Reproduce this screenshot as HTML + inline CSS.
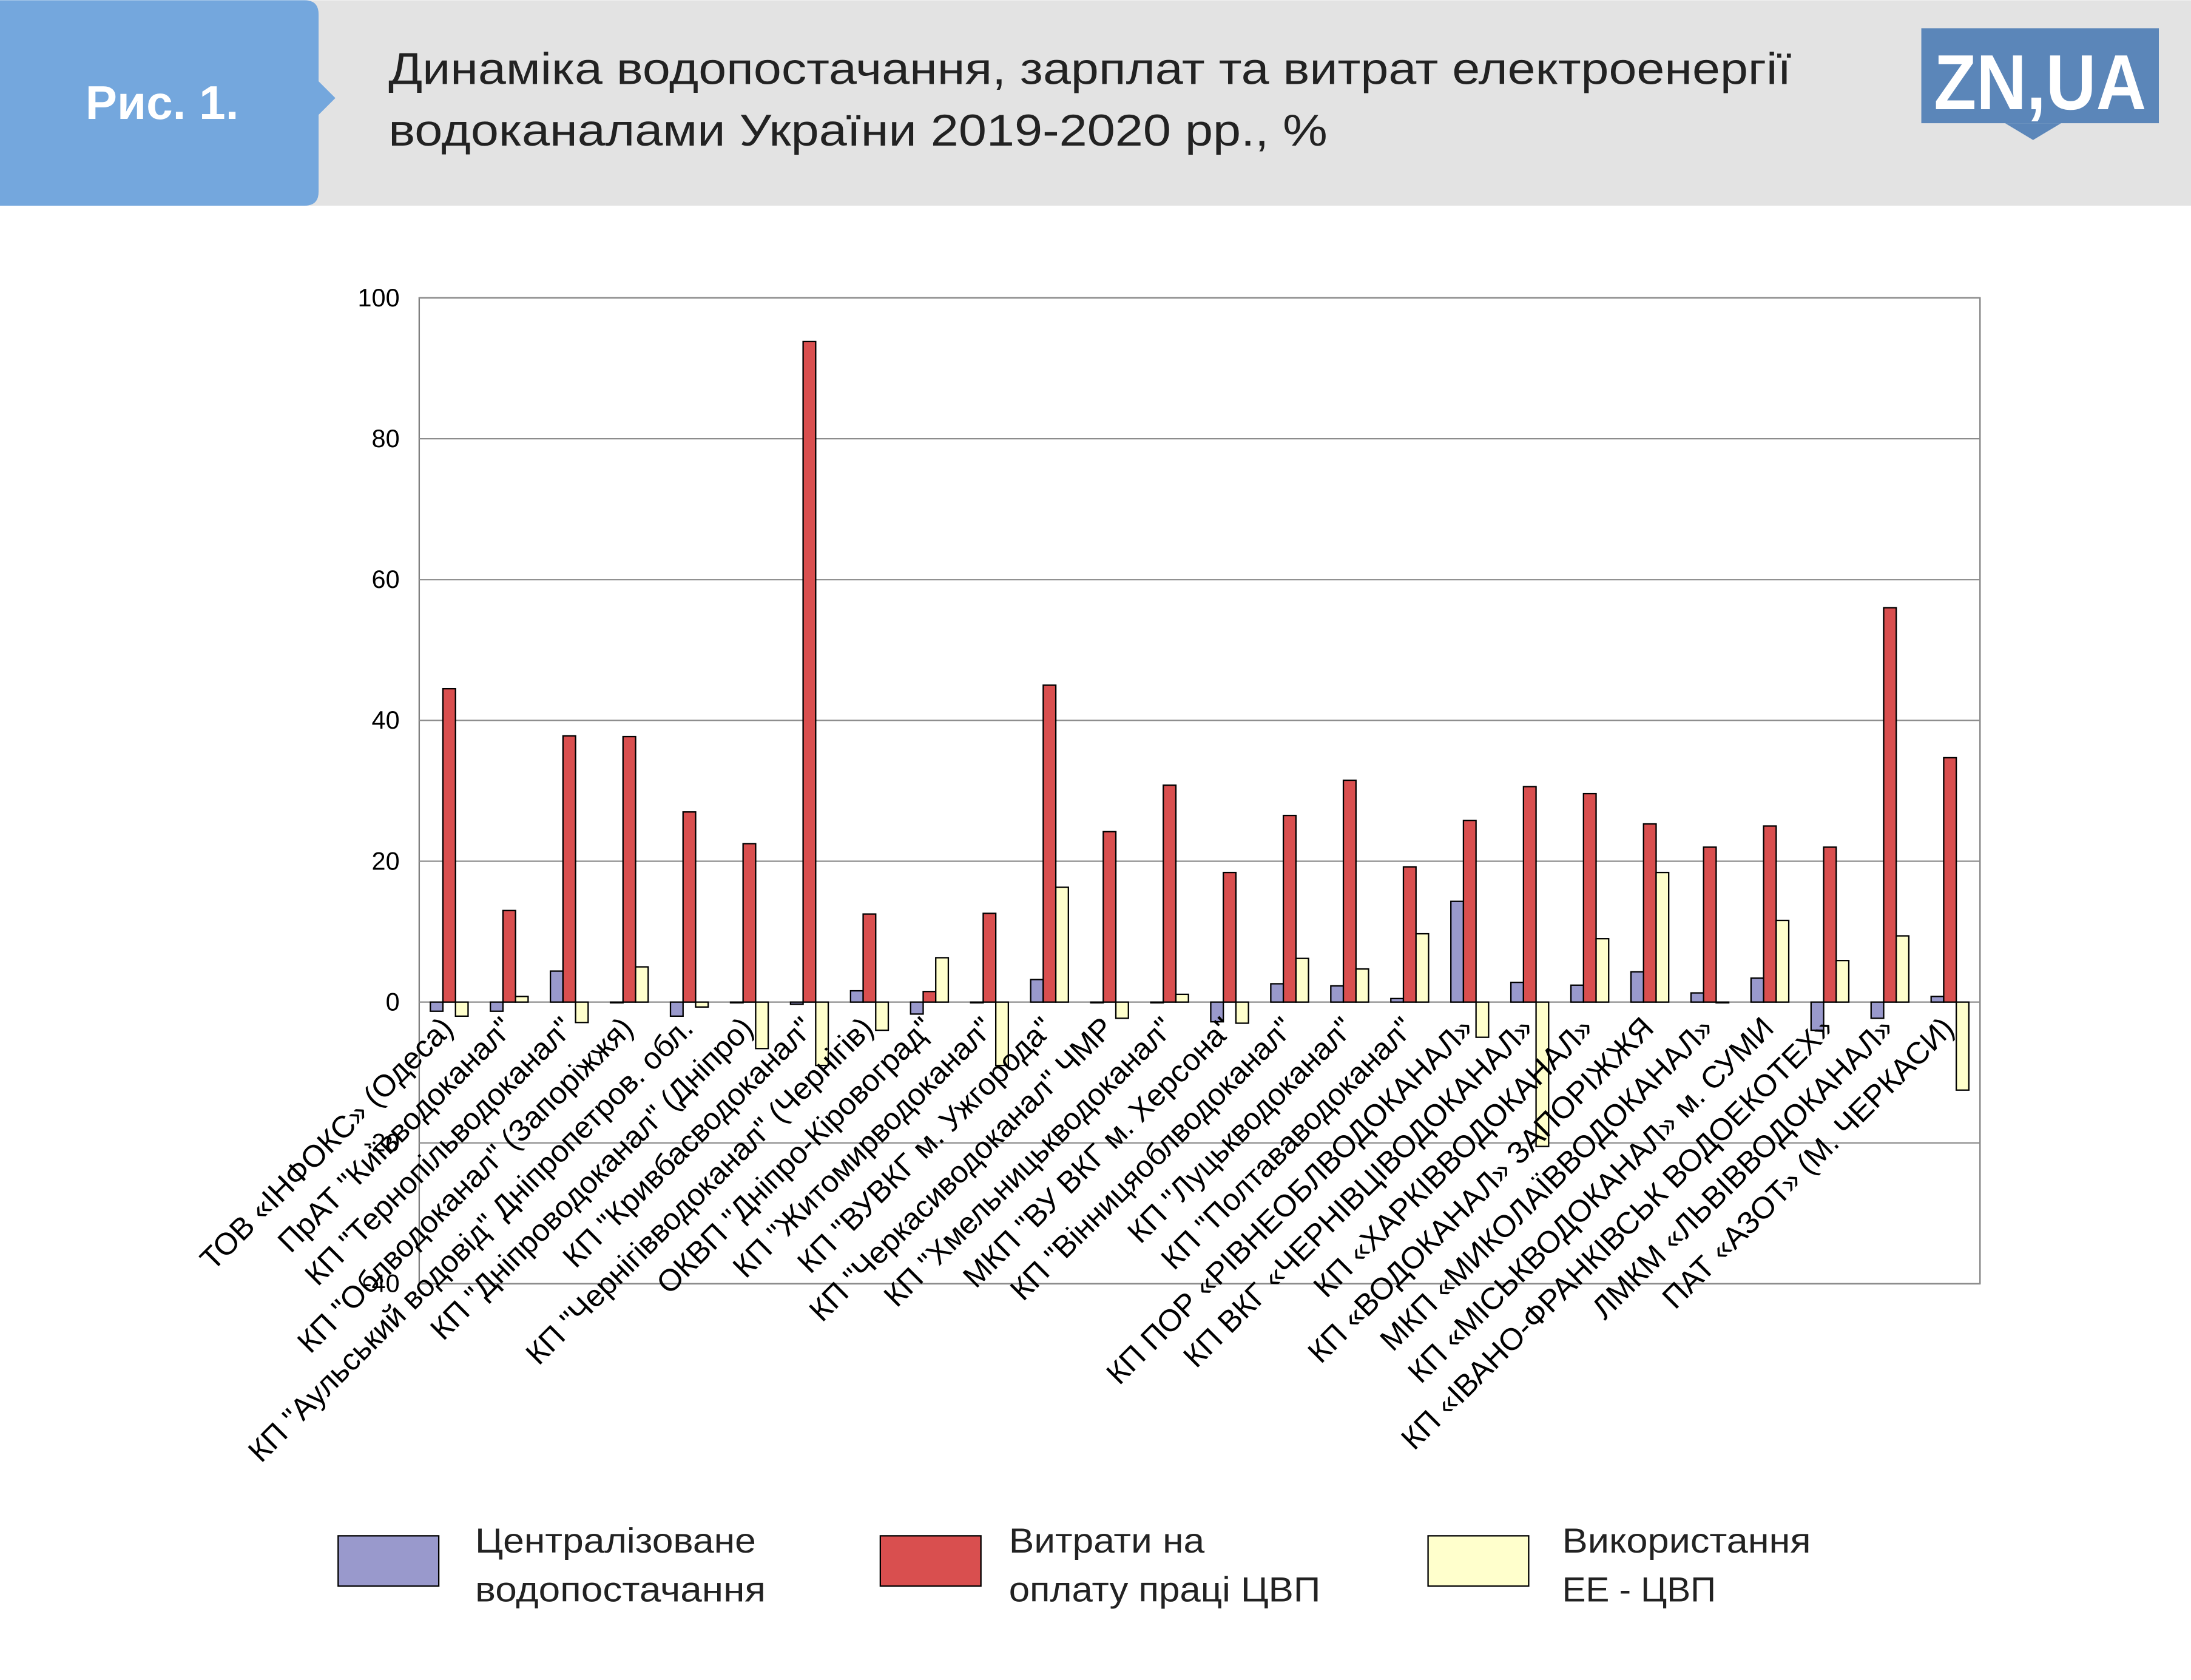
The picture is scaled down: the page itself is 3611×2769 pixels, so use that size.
<!DOCTYPE html>
<html><head><meta charset="utf-8">
<style>
html,body{margin:0;padding:0;background:#fff;}
svg{display:block;}
text{font-family:"Liberation Sans",sans-serif;}
</style></head>
<body>
<svg id="chart" width="3611" height="2769" viewBox="0 0 1568 1202" xmlns="http://www.w3.org/2000/svg">
<rect x="0" y="0" width="1568" height="147" fill="#e3e3e3"/>
<path d="M0,0 H218 Q228,0 228,10 V58 L240,70 L228,82 V137 Q228,147 218,147 H0 Z" fill="#74a7dd"/>
<text x="116" y="85" font-size="34" font-weight="bold" fill="#fff" text-anchor="middle">Рис. 1.</text>
<text x="278" y="60" font-size="32" fill="#222" textLength="1004" lengthAdjust="spacingAndGlyphs">Динаміка водопостачання, зарплат та витрат електроенергії</text>
<text x="278" y="104" font-size="32" fill="#222" textLength="672" lengthAdjust="spacingAndGlyphs">водоканалами України 2019-2020 рр., %</text>
<g>
<rect x="1375" y="20" width="170" height="68" fill="#5b86b9"/>
<path d="M1435,88 L1455,100 L1475,88 Z" fill="#5b86b9"/>
<text x="1460" y="78" font-size="56" font-weight="bold" fill="#fff" text-anchor="middle" textLength="152" lengthAdjust="spacingAndGlyphs">ZN,UA</text>
</g>
<g id="plot"></g>
<g>
<g><rect x="242" y="1099" width="72" height="36" fill="#9999cc" stroke="#000"/><text x="340" y="1111" font-size="25" fill="#222" textLength="201" lengthAdjust="spacingAndGlyphs">Централізоване</text><text x="340" y="1146" font-size="25" fill="#222" textLength="208" lengthAdjust="spacingAndGlyphs">водопостачання</text></g>
<g><rect x="630" y="1099" width="72" height="36" fill="#d94f4f" stroke="#000"/><text x="722" y="1111" font-size="25" fill="#222" textLength="140" lengthAdjust="spacingAndGlyphs">Витрати на</text><text x="722" y="1146" font-size="25" fill="#222" textLength="223" lengthAdjust="spacingAndGlyphs">оплату праці ЦВП</text></g>
<g><rect x="1022" y="1099" width="72" height="36" fill="#ffffcc" stroke="#000"/><text x="1118" y="1111" font-size="25" fill="#222" textLength="178" lengthAdjust="spacingAndGlyphs">Використання</text><text x="1118" y="1146" font-size="25" fill="#222" textLength="110" lengthAdjust="spacingAndGlyphs">ЕЕ - ЦВП</text></g>
</g>
</svg>
<script>
const categories=["ТОВ «ІНФОКС» (Одеса)","ПрАТ \"Київводоканал\"","КП \"Тернопільводоканал\"","КП \"Облводоканал\" (Запоріжжя)","КП \"Аульський водовід\" Дніпропетров. обл.","КП \"Дніпроводоканал\" (Дніпро)","КП \"Кривбасводоканал\"","КП \"Чернігівводоканал\" (Чернігів)","ОКВП \"Дніпро-Кіровоград\"","КП \"Житомирводоканал\"","КП \"ВУВКГ м. Ужгорода\"","КП \"Черкасиводоканал\" ЧМР","КП \"Хмельницькводоканал\"","МКП \"ВУ ВКГ м. Херсона\"","КП \"Вінницяоблводоканал\"","КП \"Луцькводоканал\"","КП \"Полтававодоканал\"","КП ПОР «РІВНЕОБЛВОДОКАНАЛ»","КП ВКГ «ЧЕРНІВЦІВОДОКАНАЛ»","КП «ХАРКІВВОДОКАНАЛ»","КП «ВОДОКАНАЛ» ЗАПОРІЖЖЯ","МКП «МИКОЛАЇВВОДОКАНАЛ»","КП «МІСЬКВОДОКАНАЛ» м. СУМИ","КП «ІВАНО-ФРАНКІВСЬК ВОДОЕКОТЕХ»","ЛМКМ «ЛЬВІВВОДОКАНАЛ»","ПАТ «АЗОТ» (М. ЧЕРКАСИ)"];
const waterSupply=[-1.3,-1.3,4.4,0,-2,0,-0.3,1.6,-1.7,0,3.2,0,0,-2.8,2.6,2.3,0.5,14.3,2.8,2.4,4.3,1.3,3.4,-4,-2.3,0.8];
const wages=[44.5,13,37.8,37.7,27,22.5,93.8,12.5,1.5,12.6,45,24.2,30.8,18.4,26.5,31.5,19.2,25.8,30.6,29.6,25.3,22,25,22,56,34.7];
const energy=[-2,0.8,-2.9,5,-0.7,-6.6,-9,-4,6.3,-9,16.3,-2.3,1.1,-3,6.2,4.7,9.7,-5,-20.5,9,18.4,0,11.6,5.9,9.4,-12.5];
const yTicks=[100,80,60,40,20,0,-20,-40];

const NS="http://www.w3.org/2000/svg";
const g=document.getElementById('plot');
const X0=300,X1=1417,Y100=213,Y0=717;
const y=v=>Y0-(v)*(Y0-Y100)/100;
const gw=(X1-X0)/categories.length;
function mk(tag,attrs,parent){const e=document.createElementNS(NS,tag);for(const k in attrs)e.setAttribute(k,attrs[k]);parent.appendChild(e);return e;}
const bg=mk('rect',{x:X0,y:y(100),width:X1-X0,height:y(-40)-y(100),fill:'#fff',stroke:'#808080'},g);


yTicks.forEach(t=>{
  const l=mk('line',{x1:X0,x2:X1,y1:y(t),y2:y(t),stroke:'#8c8c8c','stroke-width':1},g);
  
  
  const tx=mk('text',{x:X0-14,y:y(t)+6,'font-size':18,'text-anchor':'end',fill:'#000'},g);
  tx.textContent=t;
  
  
});
const series=[[waterSupply,'#9999cc','water'],[wages,'#d94f4f','wages'],[energy,'#ffffcc','energy']];
const bw=9;
categories.forEach((c,i)=>{
  const cx=X0+gw*i+gw/2;
  series.forEach((s,j)=>{
    const v=s[0][i];
    const bx=cx-bw*1.5+j*bw;
    const top=Math.min(y(v),y(0)),h=Math.abs(y(v)-y(0));
    const r=mk('rect',{x:bx,y:top,width:bw,height:Math.max(h,0.5),fill:s[1],stroke:'#000','stroke-width':1},g);
    
    
  });
  const lt=mk('text',{x:0,y:0,'font-size':22,'text-anchor':'end',fill:'#000',transform:`translate(${cx+4},${737}) rotate(-45)`},g);
  lt.textContent=c;
  
  
});
</script>
</body></html>
